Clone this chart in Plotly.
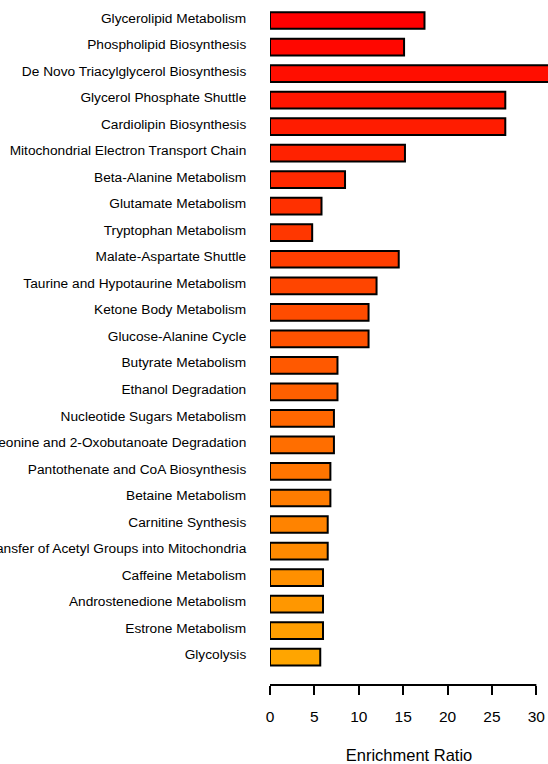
import plotly.graph_objects as go

pathways = [
    "Glycerolipid Metabolism",
    "Phospholipid Biosynthesis",
    "De Novo Triacylglycerol Biosynthesis",
    "Glycerol Phosphate Shuttle",
    "Cardiolipin Biosynthesis",
    "Mitochondrial Electron Transport Chain",
    "Beta-Alanine Metabolism",
    "Glutamate Metabolism",
    "Tryptophan Metabolism",
    "Malate-Aspartate Shuttle",
    "Taurine and Hypotaurine Metabolism",
    "Ketone Body Metabolism",
    "Glucose-Alanine Cycle",
    "Butyrate Metabolism",
    "Ethanol Degradation",
    "Nucleotide Sugars Metabolism",
    "Threonine and 2-Oxobutanoate Degradation",
    "Pantothenate and CoA Biosynthesis",
    "Betaine Metabolism",
    "Carnitine Synthesis",
    "Transfer of Acetyl Groups into Mitochondria",
    "Caffeine Metabolism",
    "Androstenedione Metabolism",
    "Estrone Metabolism",
    "Glycolysis",
]
enrichment = [17.4, 15.1, 53.0, 26.5, 26.5, 15.2, 8.45, 5.8, 4.75, 14.5,
              12.0, 11.1, 11.1, 7.6, 7.6, 7.2, 7.2, 6.8, 6.8, 6.5,
              6.5, 5.97, 5.97, 5.97, 5.66]
x_ticks = [0, 5, 10, 15, 20, 25, 30]

n = len(pathways)
pos = list(range(n))

def grad(i):
    g = round(165 * i / (n - 1))
    return f"rgb(255,{g},0)"

colors = [grad(i) for i in range(n)]

fig = go.Figure()
fig.add_trace(go.Bar(
    x=enrichment, y=pos, orientation="h",
    width=0.63,
    marker=dict(color=colors, line=dict(color="black", width=2)),
    hoverinfo="skip",
))

fig.update_layout(
    width=548, height=764,
    margin=dict(l=270, r=0, t=0, b=79, pad=0),
    plot_bgcolor="white", paper_bgcolor="white",
    showlegend=False,
    font=dict(family="Liberation Sans, Arial, sans-serif", color="black"),
    xaxis=dict(
        range=[0, 31.31], tickvals=x_ticks, ticks="outside", ticklen=9,
        tickwidth=2, tickcolor="black", showgrid=False, zeroline=False,
        showline=False, tickfont=dict(size=15.5), ticklabelstandoff=8,
        automargin=False,
        title=dict(text="Enrichment Ratio", font=dict(size=16.5), standoff=34),
    ),
    yaxis=dict(
        range=[25.05, -0.773], tickvals=[p - 0.1 for p in pos], ticktext=pathways,
        ticks="outside", ticklen=20, tickcolor="rgba(0,0,0,0)",
        showgrid=False, zeroline=False, showline=False,
        tickfont=dict(size=13.7), automargin=False,
    ),
    shapes=[dict(type="line", xref="x", yref="paper", x0=x_ticks[0], x1=x_ticks[-1],
                 y0=0, y1=0, line=dict(color="black", width=2))],
)

fig.write_html(
    "out.html",
    config={"displayModeBar": False},
    post_script="document.body.style.margin='0';document.body.style.overflow='hidden';",
)
